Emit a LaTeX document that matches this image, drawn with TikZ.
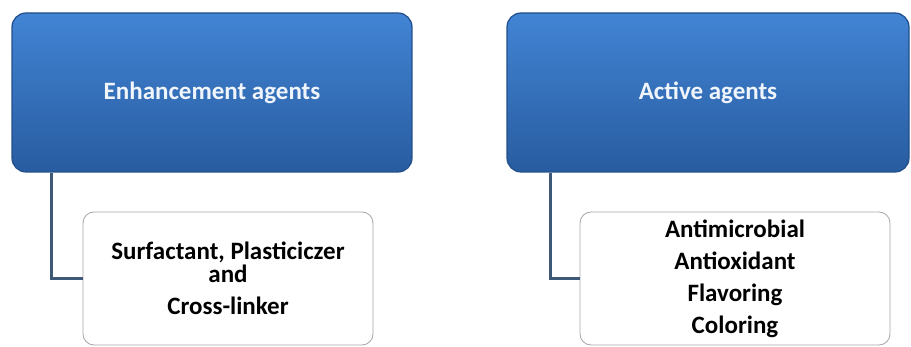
\documentclass[tikz,border=0pt]{standalone}
\usepackage{fontspec}
\setmainfont{Carlito}
\usetikzlibrary{positioning, calc}
\definecolor{headtop}{RGB}{66,132,212}
\definecolor{headbot}{RGB}{40,92,160}
\definecolor{headrim}{RGB}{34,78,138}
\definecolor{linkc}{RGB}{62,88,120}

\begin{document}
\begin{tikzpicture}[x=1pt, y=-1pt,
  head/.style={draw=headrim, line width=1.2pt, rounded corners=14pt, top color=headtop, bottom color=headbot,
    minimum height=159pt, text=white!92!headtop, font=\bfseries\fontsize{25}{30}\selectfont},
  leaf/.style={draw=gray!70, line width=0.8pt, rounded corners=11pt, fill=white, minimum height=133pt,
    align=center, font=\bfseries\fontsize{25}{32}\selectfont},
  link/.style={draw=linkc, line width=2.6pt}
]
\useasboundingbox (0,0) rectangle (911,347);
\node[head, minimum width=400pt] (enh) at (212,92.5) {Enhancement agents};
\node[head, minimum width=402pt] (act) at (708,92.5) {Active agents};
\node[leaf, minimum width=290pt] (enhlist) at (228,278.5) {Surfactant, Plasticiczer\\[-9pt]and\\Cross-linker};
\node[leaf, minimum width=310pt] (actlist) at (735,278.5) {Antimicrobial\\Antioxidant\\Flavoring\\Coloring};
\draw[link] ($(enh.south west)+(40,0)$) |- (enhlist.west);
\draw[link] ($(act.south west)+(44,0)$) |- (actlist.west);
\end{tikzpicture}
\end{document}
